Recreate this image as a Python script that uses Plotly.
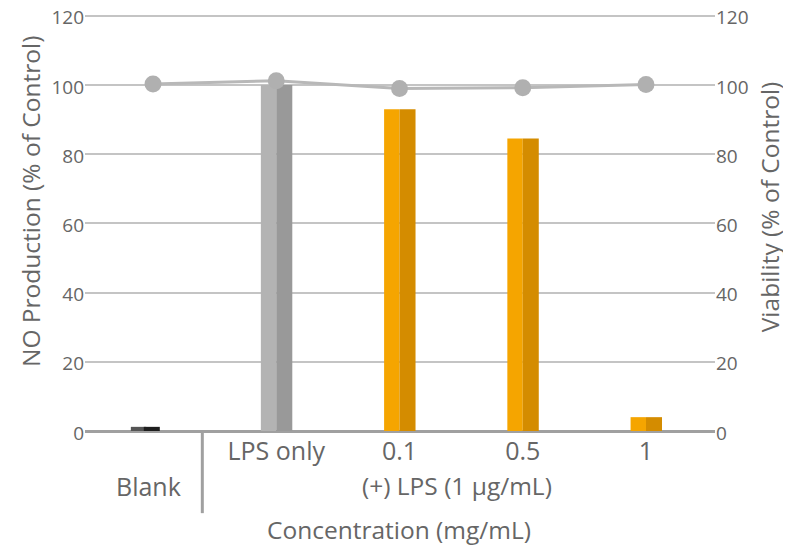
import plotly.graph_objects as go

categories = ["Blank", "LPS only", "0.1", "0.5", "1"]
tick_labels = ["", "LPS only", "0.1", "0.5", "1"]
no_production = [1.2, 100, 93, 84.5, 4.0]
viability = [100.3, 101.2, 99.0, 99.2, 100.1]
light_colors = ["#555555", "#b3b3b3", "#f5a500", "#f5a500", "#f5a500"]
dark_colors = ["#1e1e1e", "#999999", "#d48c00", "#d48c00", "#d48c00"]
y_ticks = [0, 20, 40, 60, 80, 100, 120]

xpos = list(range(len(categories)))
FONT = "Open Sans"
TXT = "#666666"
LBL = 24.5

# the Blank bar sits slightly left of its category centre in the reference
light_offset = [-0.18, -0.125, -0.125, -0.125, -0.125]
dark_offset = [-0.075, 0, 0, 0, 0]

fig = go.Figure()
fig.add_trace(go.Bar(x=xpos, y=no_production, width=0.125, offset=light_offset,
                     marker=dict(color=light_colors, line=dict(width=0)),
                     showlegend=False, hoverinfo="skip"))
fig.add_trace(go.Bar(x=xpos, y=no_production, width=0.13, offset=dark_offset,
                     marker=dict(color=dark_colors, line=dict(width=0)),
                     showlegend=False, hovertext=categories))
fig.add_trace(go.Scatter(x=xpos, y=viability, yaxis="y2", mode="lines+markers",
                         line=dict(color="#b8b8b8", width=3),
                         marker=dict(color="#b0b0b0", size=17),
                         showlegend=False, hovertext=categories))

def ann(text, x, y, xref="paper", size=LBL, angle=0):
    return dict(text=text, xref=xref, yref="paper", x=x, y=y,
                xanchor="center", yanchor="middle", textangle=angle,
                showarrow=False, font=dict(size=size, color=TXT))

fig.update_layout(
    width=783, height=538,
    margin=dict(l=77, r=76, t=6, b=115, autoexpand=False),
    plot_bgcolor="white", paper_bgcolor="white",
    barmode="overlay",
    font=dict(family=FONT, color=TXT, size=19),
    xaxis=dict(range=[-0.552, 4.56], tickvals=xpos, ticktext=tick_labels,
               showgrid=False, zeroline=False, showline=False, ticks="",
               automargin=False, ticklabelstandoff=3,
               tickfont=dict(size=25, color=TXT)),
    yaxis=dict(range=[0, 120.5], tickvals=y_ticks, showgrid=True,
               gridcolor="#c4c4c4", gridwidth=2, zeroline=True,
               zerolinecolor="#a0a0a0", zerolinewidth=3, showline=False,
               ticks="", automargin=False, ticklabeloverflow="allow",
               ticklabelshift=2, tickfont=dict(size=19, color=TXT)),
    yaxis2=dict(range=[0, 120.5], tickvals=y_ticks, overlaying="y", side="right",
                showgrid=False, zeroline=False, showline=False, ticks="",
                automargin=False, ticklabeloverflow="allow",
                ticklabelshift=2, tickfont=dict(size=19, color=TXT)),
    shapes=[dict(type="line", xref="x", yref="paper", x0=0.4, x1=0.4,
                 y0=0, y1=-0.197, line=dict(color="#a0a0a0", width=3))],
    annotations=[
        ann("Blank", -0.04, -0.132, xref="x", size=25),
        ann("(+) LPS (1 μg/mL)", 2.47, -0.1295, xref="x"),
        ann("Concentration (mg/mL)", 0.498, -0.237),
        ann("NO Production (% of Control)", -0.0873, 0.549, angle=-90),
        ann("Viability (% of Control)", 1.086, 0.537, angle=-90),
    ],
)

fig.write_html("out.html")
